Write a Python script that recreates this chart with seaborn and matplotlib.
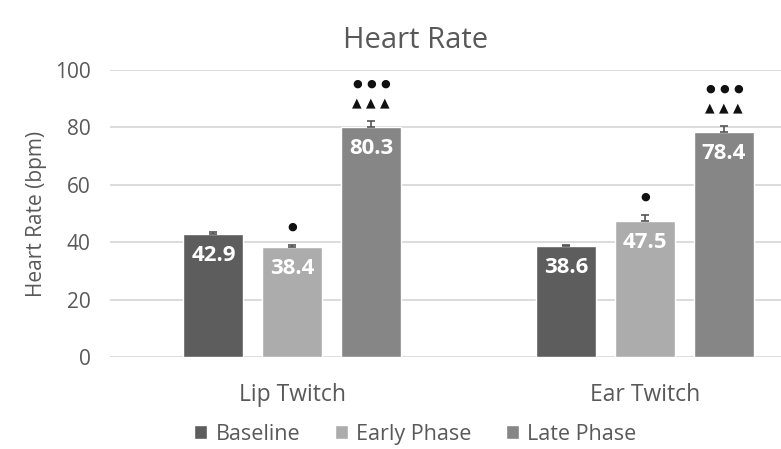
import matplotlib
matplotlib.use("Agg")
import matplotlib.pyplot as plt
import seaborn as sns
import pandas as pd
import numpy as np

groups = ["Lip Twitch", "Ear Twitch"]
phases = ["Baseline", "Early Phase", "Late Phase"]
baseline = [42.9, 38.6]
early = [38.4, 47.5]
late = [80.3, 78.4]
baseline_err = [0.5, 0.5]
early_err = [0.6, 2.0]
late_err = [2.0, 2.0]
colors = ["#5d5d5d", "#acacac", "#868686"]

rows = []
for i, g in enumerate(groups):
    for ph, vals, errs in zip(phases, [baseline, early, late], [baseline_err, early_err, late_err]):
        rows.append({"group": g, "phase": ph, "value": vals[i], "err": errs[i]})
df = pd.DataFrame(rows)

sns.set_theme(style="white")
plt.rcParams['font.family'] = ['Open Sans', 'DejaVu Sans']
txt = "#595959"

fig = plt.figure(figsize=(7.81, 4.49), dpi=100)
ax = fig.add_axes([0.141, 0.205, 0.859, 0.639])

sns.barplot(data=df, x="group", y="value", hue="phase", order=groups, hue_order=phases,
            palette=colors, width=0.67, gap=0.24, errorbar=None, ax=ax, saturation=1)

ax.set_ylim(0, 100)
ax.set_xlim(-0.516, 1.385)
ax.set_yticks(np.arange(0, 101, 20))
ax.yaxis.grid(True, color="#d9d9d9", linewidth=1.3)
ax.set_axisbelow(True)
for s in ax.spines.values():
    s.set_visible(False)
ax.tick_params(axis="both", length=0, labelcolor=txt)
ax.tick_params(axis="y", pad=14, labelsize=15)
ax.tick_params(axis="x", pad=19, labelsize=16.5)
ax.set_xlabel("")
ax.set_ylabel("Heart Rate (bpm)", fontsize=15, color=txt, labelpad=6)
ax.set_title("Heart Rate", fontsize=21, color=txt, pad=16, x=0.455)

handles, labels = ax.get_legend_handles_labels()

containers = list(ax.containers)
for ci, cont in enumerate(containers):
    sub = df[df.phase == phases[ci]].set_index("group").loc[groups]
    for bi, p in enumerate(cont.patches):
        cx = p.get_x() + p.get_width() / 2
        h = p.get_height()
        e = sub["err"].iloc[bi]
        ax.errorbar(cx, h, yerr=[[0], [e]], fmt="none", ecolor="#555555",
                    elinewidth=1.2, capsize=3, capthick=1.2)
        ax.annotate(f"{h:.1f}", (cx, h), xytext=(0, -8), textcoords="offset points",
                    ha="center", va="top", color="white", fontsize=16, fontweight="bold")
        if ci == 1:
            ax.annotate("●", (cx, h + e), xytext=(0, 13), textcoords="offset points",
                        ha="center", va="center", color="#111111", fontsize=8,
                        family=["DejaVu Sans"])
        if ci == 2:
            for k in (-1, 0, 1):
                ax.annotate("▲", (cx, h + e), xytext=(k * 10, 13), textcoords="offset points",
                            ha="center", va="center", color="#111111", fontsize=9,
                            family=["DejaVu Sans"])
                ax.annotate("●", (cx, h + e), xytext=(k * 10, 27), textcoords="offset points",
                            ha="center", va="center", color="#111111", fontsize=8,
                            family=["DejaVu Sans"])

leg = ax.legend(handles, labels, loc="center", bbox_to_anchor=(0.455, -0.27), ncol=3,
                frameon=False, fontsize=15.5, handlelength=0.6, handleheight=0.6,
                handletextpad=0.4, columnspacing=1.6)
for t in leg.get_texts():
    t.set_color(txt)

fig.savefig("out.png", dpi=100)
